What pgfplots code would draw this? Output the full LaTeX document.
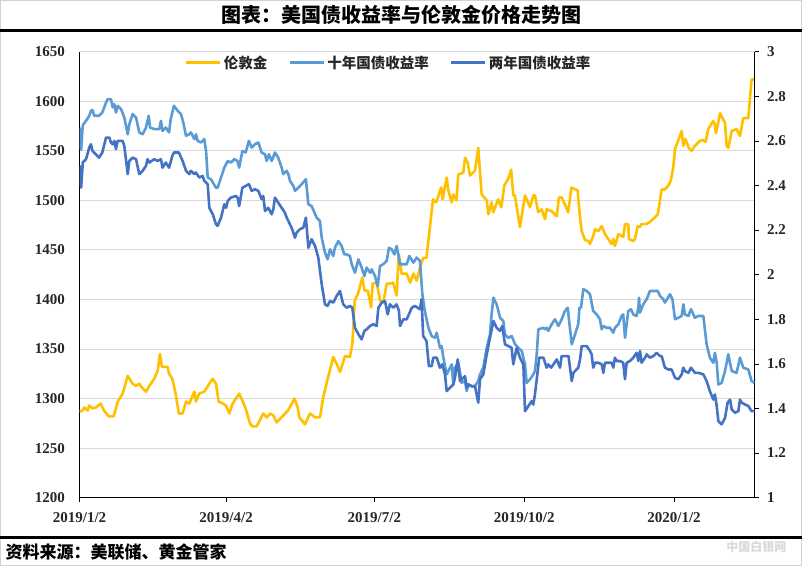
\documentclass[border=0pt]{standalone}
\usepackage{fontspec}
\setmainfont{Liberation Serif}
\newfontfamily\cjk{Noto Sans CJK SC}
\usepackage{pgfplots}
\pgfplotsset{compat=1.18}
\definecolor{goldc}{HTML}{FFC000}
\definecolor{tenY}{HTML}{5B9BD5}
\definecolor{twoY}{HTML}{4472C4}
\definecolor{gridc}{HTML}{D9D9D9}
\definecolor{txt}{HTML}{262626}

\pgfplotstableread{
d v
0 1287
2 1288
3 1291
5 1288
6 1293
8 1290
10 1291
13 1295
15 1288
18 1282
21 1282
23.5 1297
26.5 1305
29.6 1323
32.6 1315
34.7 1313
36.7 1315
37.8 1312
40.8 1307
42.9 1313
45.9 1320
48 1328
49.4 1345
50.6 1332
54 1332
55 1325
57 1320
59 1305
61 1285
63.3 1285
65.4 1297
67.4 1295
70.5 1307
71.5 1297
73.5 1305
76.6 1307
79.7 1315
81.8 1320
83.8 1315
85.4 1297
88 1295
90 1293
92 1285
94 1295
98 1305
100 1298
102 1290
104.7 1275
106 1272
108.8 1272
112.8 1285
115 1281
117 1285
119 1283
121 1276
124 1281
128 1288
132 1300
134 1291
135 1281
138.4 1274
141.5 1285
144.6 1281
147.6 1281
149.7 1302
152.7 1322
155.8 1342
157.9 1335
160 1327
163 1343
166 1342
167.5 1355
169 1399
171 1406
173.6 1422
175 1409
177 1409
179 1392
180 1416
182.4 1417
184.5 1399
186.5 1397
188.6 1416
190.6 1416
192.6 1417
194.7 1404
196 1446
197.8 1426
200.9 1426
203 1417
205 1426
207 1419
209 1432
211 1442
213 1442
215 1471
217 1501
219 1498
222 1513
223 1501
225.4 1523
226.4 1510
228.5 1498
229.5 1506
231.5 1500
232.5 1526
235.6 1528
236.7 1543
238.3 1538
239.7 1525
242.8 1530
244.8 1553
246.9 1506
250 1500
251 1486
253 1498
254 1488
257 1501
259 1493
260.8 1515
263 1521
265 1531
266.3 1505
267.3 1505
270.4 1473
273.5 1505
276.6 1493
278.6 1505
279.6 1505
281.6 1488
283.7 1491
285.8 1481
286.8 1491
289.9 1489
293 1484
294.3 1503
296 1503
298 1496
300 1488
302 1513
305.8 1510
307.2 1484
308.3 1469
310.3 1460
312.4 1459
313.4 1456
315.4 1464
316.5 1471
318.5 1469
320.6 1474
322.6 1466
324.6 1461
326.7 1456
327.7 1461
328.7 1454
330.8 1466
332.8 1464
333.8 1463
334.9 1476
336.9 1476
337.3 1461
340 1459
341 1461
342.7 1474
344 1473
345 1476
348 1476
350 1478
353.3 1483
355 1486
356.4 1500
357.4 1511
359.4 1511
361.5 1515
363 1520
364.5 1533
365.6 1552
368.6 1565
369.7 1570
370.7 1555
372 1562
374 1553
375.8 1550
377.8 1555
380.9 1560
383 1561
384.4 1559
386 1572
389 1580
390 1577
390.7 1568
392 1577
393.2 1588
396.3 1578
397.3 1555
398.3 1553
400.4 1570
403.4 1572
405.5 1565
407.5 1583
410.6 1583
412.6 1622
414.4 1622
}\gold

\pgfplotstableread{
d v
0 2.66
1 2.56
2 2.67
4 2.69
6 2.713
7 2.735
8 2.738
9 2.713
12 2.713
14 2.727
16.3 2.772
17.3 2.787
19.3 2.787
20.4 2.75
21.4 2.765
22.4 2.727
23.4 2.757
25.5 2.743
27.5 2.705
29.6 2.63
30.6 2.675
32.6 2.72
34.7 2.705
36.7 2.638
38.8 2.63
40.8 2.66
42.5 2.713
43.3 2.66
45.9 2.653
49 2.653
50 2.69
51 2.645
53 2.66
55 2.638
56 2.698
58 2.757
60.3 2.735
62.3 2.72
63.7 2.683
65.4 2.623
67.4 2.63
68.4 2.638
70.5 2.608
71.5 2.63
72.5 2.6
74.6 2.593
76.6 2.608
77.7 2.555
78.7 2.436
80.7 2.428
83.8 2.39
84.8 2.39
86.9 2.436
88.9 2.48
91 2.51
93 2.503
95 2.518
97 2.51
98 2.48
100 2.555
102 2.548
104 2.6
105.7 2.57
107.7 2.585
109.8 2.593
111.8 2.548
113.9 2.54
114.9 2.51
116.3 2.54
118 2.51
120 2.548
122 2.525
124.1 2.48
125.1 2.451
127.2 2.466
128.2 2.451
129.2 2.421
131.3 2.398
132.3 2.376
134.3 2.39
136.4 2.406
139 2.428
140.5 2.316
142.5 2.308
145.6 2.256
147.6 2.241
148.7 2.166
150.7 2.099
152.3 2.069
153.8 2.114
155.8 2.084
156.8 2.121
158.9 2.151
160.9 2.129
162.6 2.091
164 2.091
166 2.084
167.1 2.047
169.1 2.009
171.2 2.069
173.2 2.032
174.9 1.994
176.3 2.032
178.4 2.009
179.4 2.024
181.4 1.994
183.1 1.949
184.5 2.039
186.5 2.047
188.6 2.062
190 2.121
191.6 2.114
193.3 2.091
194.7 2.129
196.8 2.047
198.8 2.047
200.9 2.047
202.5 2.084
205 2.054
207 2.077
209 2.062
210.5 1.912
212 1.837
214.2 1.762
216.2 1.725
218.2 1.717
219.3 1.74
221.3 1.672
222.3 1.68
223.4 1.628
225.4 1.553
227.5 1.583
228.5 1.598
229.5 1.508
230.5 1.583
232.6 1.605
234.6 1.515
236.7 1.523
237.7 1.478
238.7 1.508
240.8 1.5
242.8 1.5
244.8 1.523
245.9 1.553
247.9 1.583
250 1.672
252 1.732
253 1.822
254.1 1.897
256.1 1.867
258.2 1.807
260.2 1.792
261.2 1.732
263.3 1.717
265.3 1.725
267.4 1.688
269.4 1.672
271.5 1.658
273.5 1.598
274.5 1.515
276.6 1.531
278.6 1.553
279.6 1.568
280.7 1.643
281.7 1.755
284.8 1.762
285.8 1.755
286.8 1.762
287.8 1.748
289.9 1.778
291.9 1.8
294 1.77
296 1.8
298 1.837
299.7 1.852
302.2 1.688
304.2 1.732
306.2 1.778
306.9 1.852
307.9 1.852
309.3 1.935
311.4 1.927
313.4 1.912
315.4 1.837
317.5 1.822
319.5 1.8
320.6 1.755
321.6 1.77
323.6 1.762
325.7 1.762
327.7 1.74
328.7 1.762
330.8 1.777
332.8 1.815
333.8 1.822
334.9 1.717
335.9 1.777
336.9 1.837
338.6 1.845
340 1.822
342 1.815
343.1 1.852
343.5 1.897
344.1 1.83
346.1 1.867
348.2 1.89
350.2 1.927
353.3 1.927
355 1.927
356.4 1.905
358.4 1.89
359.4 1.875
362.5 1.912
364 1.89
365.6 1.8
367.6 1.807
369.7 1.815
370.7 1.867
371.7 1.822
373.8 1.815
375.4 1.845
377.8 1.807
379.9 1.815
383 1.815
385 1.688
387 1.628
389.1 1.605
390.1 1.65
391.2 1.605
392.2 1.508
394.2 1.515
396.3 1.568
398.3 1.643
400.4 1.568
403.4 1.56
405.5 1.628
407.5 1.583
410.6 1.575
412.6 1.523
414.4 1.515
}\teny

\pgfplotstableread{
d v
0 2.49
1 2.39
2 2.503
4 2.518
6 2.57
7 2.585
8 2.555
10 2.54
12 2.525
14 2.548
16.3 2.615
18.3 2.615
19.3 2.593
20.4 2.585
21.4 2.6
22.4 2.563
23.4 2.6
26.5 2.6
27.5 2.578
29.6 2.451
30.6 2.51
32.6 2.525
34.7 2.518
36.7 2.451
38.8 2.466
40.8 2.488
41.8 2.518
42.9 2.503
45.9 2.518
48 2.51
50 2.518
51 2.48
53 2.503
55 2.48
57 2.533
58 2.548
61 2.548
63.3 2.51
65.4 2.466
67.4 2.451
68.4 2.466
70.5 2.451
71.5 2.458
73.5 2.436
75.6 2.443
76.6 2.421
77.7 2.413
78.7 2.406
79.7 2.3
81.8 2.271
83.8 2.226
84.8 2.219
86.9 2.256
88.9 2.316
90 2.3
91 2.331
93 2.346
96 2.353
97 2.346
98 2.308
100 2.39
102 2.398
104 2.406
105.7 2.376
107.7 2.383
109.8 2.376
111.8 2.339
112.8 2.353
113.9 2.286
115.9 2.3
118 2.271
119 2.294
120 2.346
122 2.323
124.1 2.3
126.1 2.278
127.2 2.256
128.2 2.241
130.2 2.211
132.3 2.166
133.3 2.189
135.3 2.204
137.4 2.211
139 2.256
140.5 2.121
142.5 2.159
144.6 2.129
146.6 2.077
148.7 1.957
150.7 1.867
152.3 1.86
153.8 1.882
155.8 1.875
157.9 1.905
159.9 1.927
161.9 1.867
164 1.852
166 1.86
167.5 1.852
169.1 1.762
171.2 1.733
173.2 1.71
174.9 1.748
176.3 1.755
178.4 1.77
180.4 1.778
182.4 1.77
183.5 1.852
185.5 1.875
187.6 1.882
189.2 1.822
190.6 1.867
192.7 1.852
194.7 1.867
196.1 1.837
196.8 1.77
198.8 1.8
200.9 1.8
204 1.852
206 1.86
209 1.845
210 1.89
211 1.725
213 1.703
214.5 1.59
216.2 1.59
217.2 1.628
219.3 1.628
221.3 1.583
222.7 1.598
224.4 1.553
225.4 1.478
227.5 1.493
229.5 1.508
230.5 1.538
232.2 1.62
233.6 1.523
234.6 1.531
236.7 1.545
237.7 1.493
238.7 1.508
240.8 1.5
242.8 1.5
244.8 1.426
245.9 1.531
247.9 1.553
250 1.643
252 1.717
254.1 1.792
256.1 1.762
258.2 1.748
259.6 1.77
261.2 1.688
263.3 1.68
265.3 1.672
266.3 1.598
268.4 1.672
270.4 1.628
272.5 1.598
273.5 1.388
275.6 1.411
277.6 1.433
278.6 1.418
279.6 1.463
281.3 1.568
282.2 1.628
284.8 1.628
286.8 1.583
287.8 1.598
289.5 1.583
291 1.598
293 1.62
295 1.583
296 1.635
300.2 1.635
302.2 1.523
303.2 1.56
306.2 1.583
307.3 1.62
308.3 1.68
311.4 1.68
313.4 1.658
314.4 1.643
315.4 1.583
316.5 1.605
318.5 1.605
320.6 1.598
321.6 1.56
322.6 1.605
324.6 1.605
326.7 1.605
327.7 1.583
328.7 1.628
329.8 1.613
331.8 1.613
333.8 1.605
334.9 1.531
335.9 1.605
337.9 1.613
340 1.628
342 1.65
343.1 1.613
344.1 1.658
345.1 1.605
347.2 1.628
348.2 1.643
350.2 1.628
352.3 1.635
354.3 1.65
356.4 1.635
357.4 1.635
359.4 1.583
361.5 1.575
363.5 1.575
365.6 1.538
367.6 1.531
369.7 1.553
370.7 1.583
371.7 1.568
373.8 1.56
375.4 1.583
377.8 1.56
379.9 1.56
383 1.553
385 1.523
387 1.478
389.1 1.44
390.1 1.463
391.2 1.411
392.2 1.343
394.2 1.329
396.3 1.358
397.9 1.426
399.4 1.44
400.4 1.396
402.4 1.381
404.5 1.388
405.5 1.44
406.5 1.426
408.6 1.418
410.6 1.411
412.6 1.388
414.4 1.388
}\twoy

\begin{document}
\begin{tikzpicture}[x=1pt,y=1pt]
\useasboundingbox (0,0) rectangle (802,566);
\draw[gray!35, line width=1pt] (0.5,0.5) rectangle (801.5,565.5);
\node[font=\cjk\bfseries\fontsize{20}{22}\selectfont, text=black] at (401,551) {图表：美国债收益率与伦敦金价格走势图};
\draw[line width=3pt] (0,535.5) -- (802,535.5);
\draw[line width=3pt] (0,28.5) -- (802,28.5);
\node[anchor=west, font=\cjk\bfseries\fontsize{17}{19}\selectfont] at (2,14) {资料来源：美联储、黄金管家};
\node[anchor=east, font=\cjk\bfseries\fontsize{12}{13}\selectfont, text=gray!30] at (790,19) {中国白银网};

\begin{axis}[
  at={(79.5pt,68.3pt)}, anchor=south west,
  width=675pt, height=446pt, scale only axis,
  xmin=0, xmax=414.4, ymin=1200, ymax=1650,
  axis x line*=bottom, axis y line*=left,
  axis line style={black, line width=0.8pt},
  ytick={1200,1250,1300,1350,1400,1450,1500,1550,1600,1650},
  ymajorgrids, grid style={gridc, line width=1pt},
  xtick={0,90,181,273,365},
  xticklabels={2019/1/2,2019/4/2,2019/7/2,2019/10/2,2020/1/2},
  xtick align=outside, major tick length=4pt,
  x tick style={black, line width=0.8pt},
  y tick style={draw=none},
  tick label style={font=\bfseries\fontsize{15}{15}\selectfont, text=txt},
  yticklabel style={xshift=-11pt},
  xticklabel style={yshift=-7pt},
  /pgf/number format/assume math mode=true,
  /pgf/number format/set thousands separator={},
  legend columns=3,
  legend style={at={(axis description cs:0.1514,0.9747)}, anchor=west, draw=none, fill=none,
     font=\cjk\bfseries\fontsize{14.5}{15}\selectfont, text=txt,
     nodes={inner xsep=2pt},
     /tikz/every even column/.append style={column sep=19pt}},
  legend image code/.code={\draw[#1, line width=3pt] (0pt,0pt) -- (34pt,0pt);},
]
\addplot[goldc, line width=2.6pt, line join=round] table[x=d,y=v] {\gold};
\addlegendentry{伦敦金}
\addlegendimage{tenY}
\addlegendentry{十年国债收益率}
\addlegendimage{twoY}
\addlegendentry{两年国债收益率}
\end{axis}

\begin{axis}[
  at={(79.5pt,68.3pt)}, anchor=south west,
  width=675pt, height=446pt, scale only axis,
  xmin=0, xmax=414.4, ymin=1, ymax=3,
  axis x line=none, axis y line*=right,
  axis line style={black, line width=0.8pt},
  ytick={1,1.2,1.4,1.6,1.8,2,2.2,2.4,2.6,2.8,3},
  yticklabels={1,1.2,1.4,1.6,1.8,2,2.2,2.4,2.6,2.8,3},
  ytick align=outside, major tick length=4pt,
  y tick style={black, line width=0.8pt},
  tick label style={font=\bfseries\fontsize{15}{15}\selectfont, text=txt},
  yticklabel style={xshift=5pt},
]
\addplot[tenY, line width=2.6pt, line join=round] table[x=d,y=v] {\teny};
\addplot[twoY, line width=2.6pt, line join=round] table[x=d,y=v] {\twoy};
\end{axis}
\end{tikzpicture}
\end{document}
